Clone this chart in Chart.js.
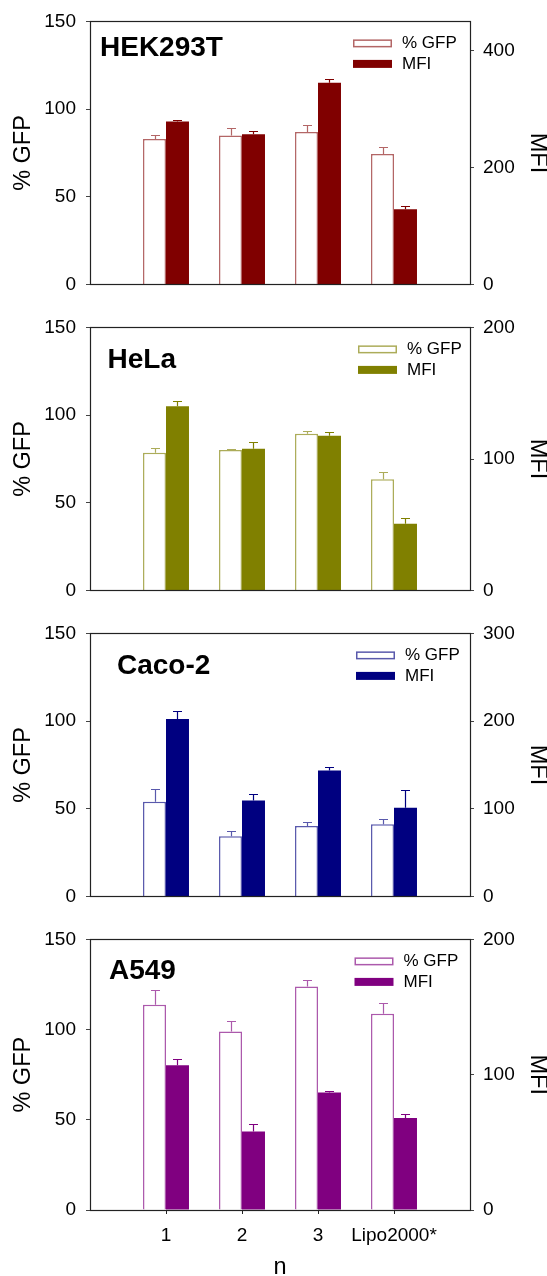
<!DOCTYPE html>
<html>
<head>
<meta charset="utf-8">
<script src="https://cdn.jsdelivr.net/npm/chart.js@4.4.1/dist/chart.umd.min.js"></script>
<style>
  html, body { margin: 0; padding: 0; background: #fff; }
  #wrap { position: relative; width: 547px; height: 1276px; }
  canvas { position: absolute; left: 0; }
</style>
</head>
<body>
<div id="wrap">
  <canvas id="c0" width="547" height="306" style="top:0px"></canvas>
  <canvas id="c1" width="547" height="306" style="top:306px"></canvas>
  <canvas id="c2" width="547" height="306" style="top:612px"></canvas>
  <canvas id="c3" width="547" height="358" style="top:918px"></canvas>
</div>
<script>
// ── Data ────────────────────────────────────────────────
const categories   = ['', '1', '2', '3', 'Lipo2000*', ''];
const seriesLabels = ['% GFP', 'MFI'];
const gfpTicks     = [0, 50, 100, 150];

// HEK293T
const hekGfp    = [83, 85, 87, 74.5];
const hekGfpErr = [2.5, 4, 4, 4];
const hekMfi    = [279, 257, 345, 129];
const hekMfiErr = [2, 5, 7, 6];
const hekMfiTicks = [0, 200, 400];

// HeLa
const helaGfp    = [78.6, 80.1, 89.4, 63.5];
const helaGfpErr = [2.6, 0.7, 1.4, 4.1];
const helaMfi    = [140, 107.7, 117.7, 50.8];
const helaMfiErr = [3.7, 4.9, 2.6, 4.2];
const helaMfiTicks = [0, 100, 200];

// Caco-2
const cacoGfp    = [54, 34.4, 40.3, 41.2];
const cacoGfpErr = [7.4, 3.2, 2.4, 2.9];
const cacoMfi    = [202.5, 109.5, 143.6, 101.3];
const cacoMfiErr = [9.4, 7, 3.6, 20.6];
const cacoMfiTicks = [0, 100, 200, 300];

// A549
const a549Gfp    = [113.8, 99, 123.9, 108.8];
const a549GfpErr = [8, 5.7, 3.6, 5.7];
const a549Mfi    = [107, 58, 86.8, 68];
const a549MfiErr = [4.9, 5.9, 1.2, 3.2];
const a549MfiTicks = [0, 100, 200];

// ── Setup ───────────────────────────────────────────────
const FONT = "'Liberation Sans', Arial, Helvetica, sans-serif";
Chart.defaults.font.family = FONT;
Chart.defaults.color = '#000';

// empty slots at both ends of the x axis
const pad = (a) => [null, ...a, null];

const panels = [
  { id: 'c0', name: 'HEK293T', color: '#800000', edge: 'rgba(128,0,0,0.6)',
    gfp: hekGfp, gfpErr: hekGfpErr, mfi: hekMfi, mfiErr: hekMfiErr,
    mfiMax: 450, mfiTicks: hekMfiTicks, top: 18, xh: 13, titleX: 100, titleDy: 34.5, legendX: 353 },
  { id: 'c1', name: 'HeLa', color: '#808000', edge: 'rgba(128,128,0,0.65)',
    gfp: helaGfp, gfpErr: helaGfpErr, mfi: helaMfi, mfiErr: helaMfiErr,
    mfiMax: 200, mfiTicks: helaMfiTicks, top: 18, xh: 13, titleX: 107.5, titleDy: 41, legendX: 358 },
  { id: 'c2', name: 'Caco-2', color: '#000080', edge: 'rgba(0,0,128,0.65)',
    gfp: cacoGfp, gfpErr: cacoGfpErr, mfi: cacoMfi, mfiErr: cacoMfiErr,
    mfiMax: 300, mfiTicks: cacoMfiTicks, top: 18, xh: 11, titleX: 117, titleDy: 41, legendX: 356 },
  { id: 'c3', name: 'A549', color: '#800080', edge: 'rgba(128,0,128,0.65)',
    gfp: a549Gfp, gfpErr: a549GfpErr, mfi: a549Mfi, mfiErr: a549MfiErr,
    mfiMax: 200, mfiTicks: a549MfiTicks, top: 19, xh: 66, titleX: 109, titleDy: 39.5, legendX: 354.5, showX: true },
];

// Error bars, frame, panel title and in-plot legend
const panelDecor = {
  id: 'panelDecor',
  afterDatasetsDraw(chart, args, opts) {
    const { ctx, chartArea: a } = chart;

    // error bars (upper half only)
    chart.data.datasets.forEach((ds, di) => {
      const meta = chart.getDatasetMeta(di);
      const scale = chart.scales[ds.yAxisID];
      meta.data.forEach((bar, i) => {
        const v = ds.data[i], e = ds.errors[i];
        if (v == null || e == null) return;
        const x = Math.round(bar.x) + 0.5;
        const yt = Math.round(scale.getPixelForValue(v + e)) + 0.5;
        ctx.save();
        ctx.strokeStyle = ds.errorColor;
        ctx.lineWidth = 1.2;
        ctx.beginPath();
        ctx.moveTo(x, bar.y);
        ctx.lineTo(x, yt);
        ctx.moveTo(x - 4.5, yt);
        ctx.lineTo(x + 4.5, yt);
        ctx.stroke();
        ctx.restore();
      });
    });

    // frame
    ctx.save();
    ctx.strokeStyle = '#222';
    ctx.lineWidth = 1.2;
    ctx.strokeRect(Math.round(a.left) + 0.5, Math.round(a.top) + 0.5,
                   Math.round(a.right - a.left), Math.round(a.bottom - a.top));

    // panel title
    ctx.fillStyle = '#000';
    ctx.font = 'bold 28px ' + FONT;
    ctx.textBaseline = 'alphabetic';
    ctx.textAlign = 'left';
    ctx.fillText(opts.name, opts.titleX, a.top + opts.titleDy);

    // legend
    const ds = chart.data.datasets;
    const rows = [a.top + 22, a.top + 42.5];
    ctx.font = '17px ' + FONT;
    ctx.textBaseline = 'middle';
    rows.forEach((cy, k) => {
      const d = ds[k];
      ctx.fillStyle = d.backgroundColor;
      ctx.fillRect(opts.legendX, cy - 4, 39, 8);
      if (k === 0) {
        ctx.strokeStyle = d.borderColor;
        ctx.lineWidth = 1.5;
        ctx.strokeRect(opts.legendX + 0.75, cy - 3.25, 37.5, 6.5);
      }
      ctx.fillStyle = '#000';
      ctx.fillText(d.label, opts.legendX + 49, cy);
    });
    ctx.restore();
  },
};

function buildPanel(p) {
  const showX = !!p.showX;
  return new Chart(document.getElementById(p.id), {
    type: 'bar',
    data: {
      labels: categories,
      datasets: [
        {
          label: seriesLabels[0],
          data: pad(p.gfp),
          errors: pad(p.gfpErr),
          yAxisID: 'y',
          backgroundColor: '#fff',
          borderColor: p.edge,
          borderWidth: 1.5,
          errorColor: p.edge,
        },
        {
          label: seriesLabels[1],
          data: pad(p.mfi),
          errors: pad(p.mfiErr),
          yAxisID: 'y1',
          backgroundColor: p.color,
          borderColor: p.color,
          borderWidth: 0,
          errorColor: p.color,
        },
      ],
    },
    options: {
      responsive: false,
      animation: false,
      events: [],
      layout: { padding: { top: p.top, left: 0, right: 0, bottom: 0 } },
      datasets: { bar: { categoryPercentage: 0.605, barPercentage: 1 } },
      plugins: {
        legend: { display: false },
        tooltip: { enabled: false },
        panelDecor: { name: p.name, titleX: p.titleX, titleDy: p.titleDy, legendX: p.legendX },
      },
      scales: {
        x: {
          offset: false,
          border: { display: false },
          grid: {
            display: showX,
            offset: false,
            drawOnChartArea: false,
            tickLength: 4,
            color: (c) => (c.tick && c.tick.label ? '#222' : 'rgba(0,0,0,0)'),
          },
          ticks: { display: showX, autoSkip: false, maxRotation: 0, padding: 10, font: { size: 19 } },
          title: { display: showX, text: 'n', padding: 0, font: { size: 23.5, lineHeight: 0.7 } },
          afterFit: (s) => { s.height = p.xh; },
        },
        y: {
          position: 'left',
          min: 0,
          max: 150,
          border: { display: false },
          grid: { drawOnChartArea: false, tickLength: 4, color: '#444' },
          ticks: { stepSize: 50, padding: 10, font: { size: 19 } },
          afterBuildTicks: (s) => { s.ticks = gfpTicks.map(v => ({ value: v })); },
          title: { display: true, text: '% GFP', padding: { top: 9.6, bottom: 0 }, font: { size: 23.5, lineHeight: 1.2 } },
          afterFit: (s) => { s.width = 90; },
        },
        y1: {
          position: 'right',
          min: 0,
          max: p.mfiMax,
          border: { display: false },
          grid: { drawOnChartArea: false, tickLength: 4, color: '#444' },
          ticks: { padding: 9, font: { size: 19 } },
          afterBuildTicks: (s) => { s.ticks = p.mfiTicks.map(v => ({ value: v })); },
          title: { display: true, text: 'MFI', padding: 0, font: { size: 23.5, lineHeight: 0.77 } },
          afterFit: (s) => { s.width = 77; },
        },
      },
    },
    plugins: [panelDecor],
  });
}

panels.forEach(buildPanel);
</script>
</body>
</html>
